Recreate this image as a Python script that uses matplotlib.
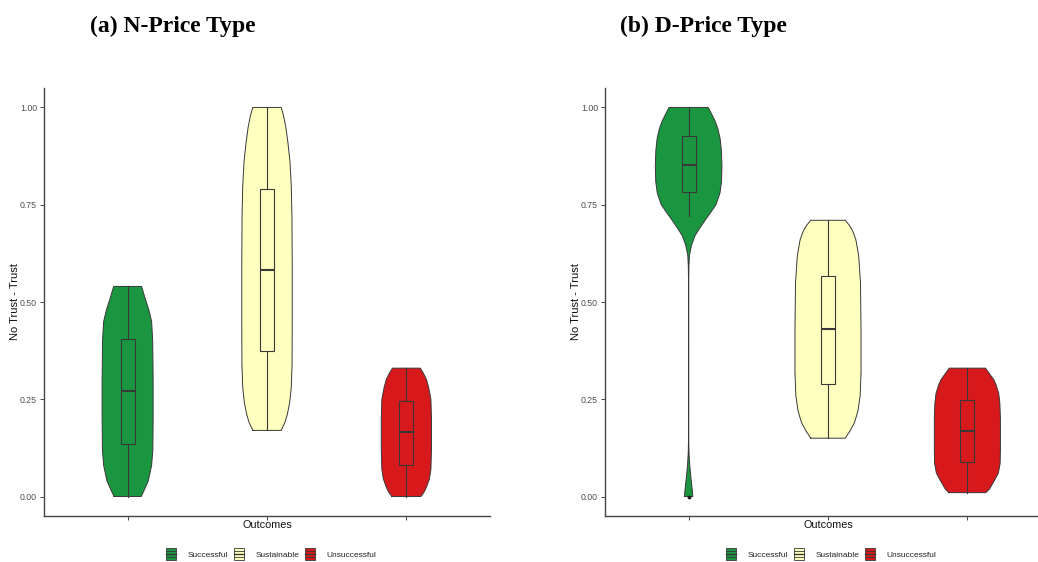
import numpy as np
import matplotlib
matplotlib.use("Agg")
import matplotlib.pyplot as plt
from matplotlib.patches import Rectangle
from matplotlib.legend_handler import HandlerBase
from matplotlib.lines import Line2D

plt.rcParams["font.family"] = ["Liberation Sans", "DejaVu Sans"]

# ---------------------------------------------------------------- data
categories = ["Successful", "Sustainable", "Unsuccessful"]
fill_colors = ["#1A9641", "#FFFFBF", "#D7191C"]
panel_titles = ["(a) N-Price Type", "(b) D-Price Type"]
y_ticks = [0.00, 0.25, 0.50, 0.75, 1.00]
y_tick_labels = ["0.00", "0.25", "0.50", "0.75", "1.00"]

# violin outlines: trust level and half-width (category units)
n_succ_y = [0.00, 0.015, 0.04, 0.08, 0.12, 0.20, 0.30, 0.40, 0.45, 0.48, 0.51, 0.54]
n_succ_w = [0.097, 0.117, 0.148, 0.172, 0.181, 0.183, 0.183, 0.180, 0.172, 0.152, 0.125, 0.100]
n_sust_y = [0.17, 0.19, 0.21, 0.24, 0.28, 0.34, 0.45, 0.60, 0.72, 0.80, 0.86, 0.91, 0.95, 0.98, 1.00]
n_sust_w = [0.102, 0.128, 0.145, 0.162, 0.174, 0.180, 0.181, 0.181, 0.179, 0.174, 0.165, 0.150, 0.135, 0.118, 0.102]
n_unsu_y = [0.00, 0.012, 0.025, 0.045, 0.07, 0.12, 0.20, 0.25, 0.28, 0.30, 0.315, 0.33]
n_unsu_w = [0.104, 0.128, 0.145, 0.165, 0.176, 0.180, 0.180, 0.176, 0.160, 0.145, 0.125, 0.100]

d_succ_y = [0.00, 0.01, 0.03, 0.05, 0.08, 0.11, 0.14, 0.20, 0.40, 0.56, 0.59, 0.62, 0.645,
            0.67, 0.69, 0.71, 0.73, 0.75, 0.78, 0.81, 0.85, 0.89, 0.92, 0.945, 0.965, 0.985, 1.00]
d_succ_w = [0.030, 0.028, 0.022, 0.016, 0.008, 0.003, 0.001, 0.0005, 0.0005, 0.001, 0.002, 0.006,
            0.020, 0.045, 0.080, 0.118, 0.158, 0.196, 0.225, 0.236, 0.239, 0.235, 0.226, 0.210,
            0.190, 0.162, 0.141]
d_sust_y = [0.15, 0.17, 0.19, 0.22, 0.26, 0.32, 0.43, 0.55, 0.62, 0.66, 0.68, 0.695, 0.71]
d_sust_w = [0.124, 0.160, 0.190, 0.215, 0.231, 0.237, 0.237, 0.233, 0.220, 0.200, 0.180, 0.158, 0.124]
d_unsu_y = [0.01, 0.02, 0.04, 0.06, 0.085, 0.12, 0.20, 0.24, 0.265, 0.285, 0.30, 0.315, 0.33]
d_unsu_w = [0.133, 0.160, 0.192, 0.222, 0.235, 0.237, 0.237, 0.233, 0.225, 0.208, 0.190, 0.160, 0.130]

# box plot statistics per category
n_whisk_lo = [0.00, 0.17, 0.00]
n_q1 = [0.135, 0.375, 0.08]
n_median = [0.27, 0.583, 0.165]
n_q3 = [0.405, 0.79, 0.245]
n_whisk_hi = [0.54, 1.00, 0.33]
n_outliers = [[], [], []]

d_whisk_lo = [0.72, 0.15, 0.01]
d_q1 = [0.782, 0.288, 0.088]
d_median = [0.853, 0.43, 0.168]
d_q3 = [0.926, 0.568, 0.249]
d_whisk_hi = [1.00, 0.71, 0.33]
d_outliers = [[0.0], [], []]

panels = [
    dict(title=panel_titles[0],
         ys=[n_succ_y, n_sust_y, n_unsu_y], ws=[n_succ_w, n_sust_w, n_unsu_w],
         lo=n_whisk_lo, q1=n_q1, med=n_median, q3=n_q3, hi=n_whisk_hi, out=n_outliers),
    dict(title=panel_titles[1],
         ys=[d_succ_y, d_sust_y, d_unsu_y], ws=[d_succ_w, d_sust_w, d_unsu_w],
         lo=d_whisk_lo, q1=d_q1, med=d_median, q3=d_q3, hi=d_whisk_hi, out=d_outliers),
]

# ---------------------------------------------------------------- style
W, H = 1038, 562
EDGE = "#383838"
TXT = "#4D4D4D"
BOX_W = 0.05


class ViolinKey(HandlerBase):
    """Legend key: filled square with the box-plot lines drawn across it."""

    def create_artists(self, legend, orig_handle, xdescent, ydescent,
                       width, height, fontsize, trans):
        fc = orig_handle.get_facecolor()
        rect = Rectangle((-xdescent, -ydescent), width, height, facecolor=fc,
                         edgecolor=EDGE, lw=0.6, transform=trans)
        arts = [rect]
        for fy, lw in [(0.25, 0.6), (0.5, 1.0), (0.75, 0.6)]:
            arts.append(Line2D([-xdescent, -xdescent + width],
                               [-ydescent + fy * height] * 2,
                               color=EDGE, lw=lw, transform=trans))
        return arts


fig = plt.figure(figsize=(W / 100, H / 100), dpi=100)

ax_left_px = [44, 605]
ax_w_px = 446
ax_top_px, ax_bot_px = 88, 516

for k, p in enumerate(panels):
    ax = fig.add_axes([ax_left_px[k] / W, 1 - ax_bot_px / H,
                       ax_w_px / W, (ax_bot_px - ax_top_px) / H])
    for i in range(len(categories)):
        x0 = i + 1
        y = np.asarray(p["ys"][i])
        w = np.asarray(p["ws"][i])
        ax.fill_betweenx(y, x0 - w, x0 + w, facecolor=fill_colors[i],
                         edgecolor="none", zorder=1)
        outline_x = np.concatenate([x0 - w, (x0 + w)[::-1], [x0 - w[0]]])
        outline_y = np.concatenate([y, y[::-1], [y[0]]])
        ax.plot(outline_x, outline_y, color=EDGE, lw=0.7, zorder=2,
                solid_joinstyle="round")
        # whiskers
        ax.plot([x0, x0], [p["lo"][i], p["q1"][i]], color=EDGE, lw=0.8, zorder=3)
        ax.plot([x0, x0], [p["q3"][i], p["hi"][i]], color=EDGE, lw=0.8, zorder=3)
        # box
        ax.add_patch(Rectangle((x0 - BOX_W, p["q1"][i]), 2 * BOX_W,
                               p["q3"][i] - p["q1"][i], facecolor=fill_colors[i],
                               edgecolor=EDGE, lw=0.8, zorder=3))
        ax.plot([x0 - BOX_W, x0 + BOX_W], [p["med"][i]] * 2, color=EDGE,
                lw=1.5, zorder=4, solid_capstyle="butt")
        if p["out"][i]:
            ax.scatter([x0] * len(p["out"][i]), p["out"][i], s=8, color="#222222",
                       zorder=5, linewidths=0)

    ax.set_xlim(0.4, 3.6)
    ax.set_ylim(-0.05, 1.05)
    ax.set_xticks([1, 2, 3])
    ax.set_xticklabels(["", "", ""])
    ax.set_yticks(y_ticks)
    ax.set_yticklabels(y_tick_labels)
    for s in ["top", "right"]:
        ax.spines[s].set_visible(False)
    for s in ["left", "bottom"]:
        ax.spines[s].set_color("#444444")
        ax.spines[s].set_linewidth(1.0)
    ax.tick_params(axis="both", colors="#444444", length=3, width=0.7,
                   labelsize=6.3, labelcolor=TXT, pad=2)
    ax.set_xlabel("Outcomes", fontsize=7.8, color="#111111", labelpad=-2)
    ax.set_ylabel("No Trust - Trust", fontsize=8, color="#111111")
    ax.yaxis.set_label_coords(-0.053, 0.5)

    fig.text([90, 620][k] / W, 1 - 26 / H, p["title"], ha="left", va="center",
             fontsize=17, fontweight="bold", family="Liberation Serif")

    handles = [Rectangle((0, 0), 1, 1, facecolor=c) for c in fill_colors]
    leg_cx = [271, 831][k]
    fig.legend(handles, categories, loc="center",
               bbox_to_anchor=(leg_cx / W, 1 - 554 / H),
               ncol=3, frameon=False, fontsize=6,
               handler_map={Rectangle: ViolinKey()},
               handlelength=1.2, handleheight=1.7, handletextpad=1.4,
               columnspacing=0.7, labelcolor="#222222")

fig.savefig("out.png", dpi=100)
